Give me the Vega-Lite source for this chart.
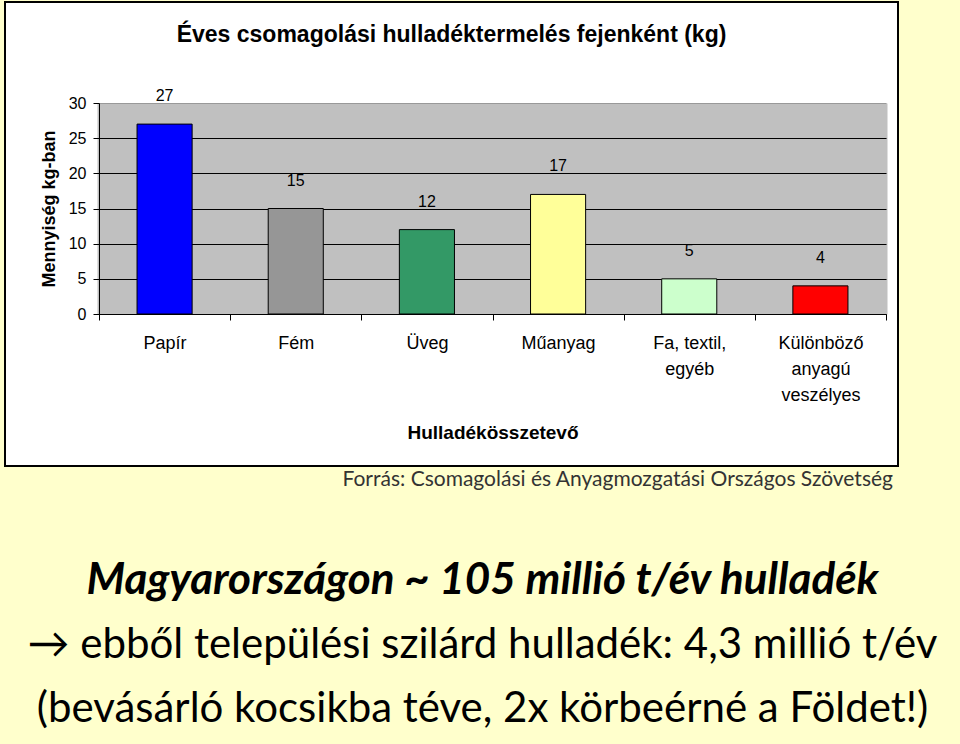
{
  "$schema": "https://vega.github.io/schema/vega-lite/v6.json",
  "background": "#FFFFCC",
  "padding": {"left": 4, "top": 1, "right": 0, "bottom": 0},
  "spacing": 2,
  "config": {
    "font": "Liberation Sans",
    "view": {"fill": "white", "stroke": "black", "strokeWidth": 2}
  },
  "vconcat": [
    {
      "width": 893,
      "height": 464,
      "title": {
        "text": "Éves csomagolási hulladéktermelés fejenként (kg)",
        "font": "Liberation Sans",
        "fontSize": 23,
        "fontWeight": "bold",
        "color": "black",
        "anchor": "middle",
        "frame": "group",
        "offset": -45
      },
      "data": {
        "values": [
          {"kategoria": "Papír", "kg": 27},
          {"kategoria": "Fém", "kg": 15},
          {"kategoria": "Üveg", "kg": 12},
          {"kategoria": "Műanyag", "kg": 17},
          {"kategoria": "Fa, textil, egyéb", "kg": 5},
          {"kategoria": "Különböző anyagú veszélyes", "kg": 4}
        ]
      },
      "encoding": {
        "y": {
          "field": "kg",
          "type": "quantitative",
          "scale": {"domain": [0, 30], "range": [312, 101], "nice": false, "zero": true},
          "axis": {
            "title": "Mennyiség kg-ban",
            "values": [0, 5, 10, 15, 20, 25, 30],
            "offset": -94,
            "grid": true,
            "gridColor": {"condition": {"test": "datum.value == 30", "value": "#999999"}, "value": "black"},
            "gridWidth": 1,
            "domainColor": "black",
            "tickColor": "black",
            "tickSize": 6,
            "labelPadding": 7,
            "labelFont": "Liberation Sans",
            "labelFontSize": 16,
            "labelColor": "black",
            "titleFont": "Liberation Sans",
            "titleFontSize": 18,
            "titleFontWeight": "bold",
            "titleColor": "black",
            "titlePadding": 10
          }
        }
      },
      "layer": [
        {
          "mark": {"type": "bar", "width": {"band": 0.42}, "stroke": "black", "strokeWidth": 1},
          "encoding": {
            "x": {
              "field": "kategoria",
              "type": "nominal",
              "sort": null,
              "scale": {"range": [94, 881], "paddingInner": 0, "paddingOuter": 0},
              "axis": {
                "orient": "top",
                "offset": 0,
                "grid": true,
                "gridColor": "#C0C0C0",
                "gridWidth": 134,
                "bandPosition": 0.5,
                "labels": false,
                "ticks": false,
                "domain": false,
                "title": null
              }
            },
            "color": {
              "field": "kategoria",
              "type": "nominal",
              "scale": {
                "domain": ["Papír", "Fém", "Üveg", "Műanyag", "Fa, textil, egyéb", "Különböző anyagú veszélyes"],
                "range": ["#0000FF", "#969696", "#339966", "#FFFF99", "#CCFFCC", "#FF0000"]
              },
              "legend": null
            }
          }
        },
        {
          "mark": {"type": "text", "dy": -28, "baseline": "middle", "font": "Liberation Sans", "fontSize": 16, "color": "black"},
          "encoding": {
            "x": {
              "field": "kategoria",
              "type": "nominal",
              "sort": null,
              "axis": {
                "orient": "bottom",
                "offset": -152,
                "title": "Hulladékösszetevő",
                "grid": false,
                "tickBand": "extent",
                "tickSize": 6,
                "tickColor": "black",
                "domainColor": "black",
                "labelAngle": 0,
                "labelExpr": "datum.value == 'Fa, textil, egyéb' ? ['Fa, textil,', 'egyéb'] : datum.value == 'Különböző anyagú veszélyes' ? ['Különböző', 'anyagú', 'veszélyes'] : datum.value",
                "labelFont": "Liberation Sans",
                "labelFontSize": 18,
                "labelColor": "black",
                "labelPadding": 14,
                "labelLineHeight": 26,
                "labelBaseline": "top",
                "labelOverlap": false,
                "labelLimit": 300,
                "titleFont": "Liberation Sans",
                "titleFontSize": 19,
                "titleFontWeight": "bold",
                "titleColor": "black",
                "titlePadding": 19
              }
            },
            "text": {"field": "kg", "type": "quantitative"}
          }
        }
      ],
      "resolve": {"axis": {"x": "independent"}}
    },
    {
      "width": 955,
      "height": 172,
      "view": {"stroke": null, "fill": "transparent"},
      "title": {
        "text": "Forrás: Csomagolási és Anyagmozgatási Országos Szövetség",
        "orient": "top",
        "anchor": "end",
        "dx": -67,
        "font": "Lato",
        "fontSize": 21,
        "fontWeight": "normal",
        "color": "#333333",
        "baseline": "alphabetic",
        "offset": 52
      },
      "data": {
        "values": [
          {"sor": 1, "szoveg": "Magyarországon ~ 105 millió t/év hulladék"},
          {"sor": 2, "szoveg": "→ ebből települési szilárd hulladék: 4,3 millió t/év"},
          {"sor": 3, "szoveg": "(bevásárló kocsikba téve, 2x körbeérné a Földet!)"}
        ]
      },
      "encoding": {
        "y": {"field": "sor", "type": "ordinal", "axis": null, "scale": {"type": "point", "padding": 0.344}},
        "text": {"field": "szoveg", "type": "nominal"}
      },
      "layer": [
        {
          "transform": [{"filter": "datum.sor == 1"}],
          "mark": {"type": "text", "baseline": "alphabetic", "font": "Lato", "fontSize": 44, "fontStyle": "italic", "fontWeight": "bold", "color": "black"}
        },
        {
          "transform": [{"filter": "datum.sor > 1"}],
          "mark": {"type": "text", "baseline": "alphabetic", "font": "Lato", "fontSize": 42, "color": "black"}
        }
      ]
    }
  ]
}
